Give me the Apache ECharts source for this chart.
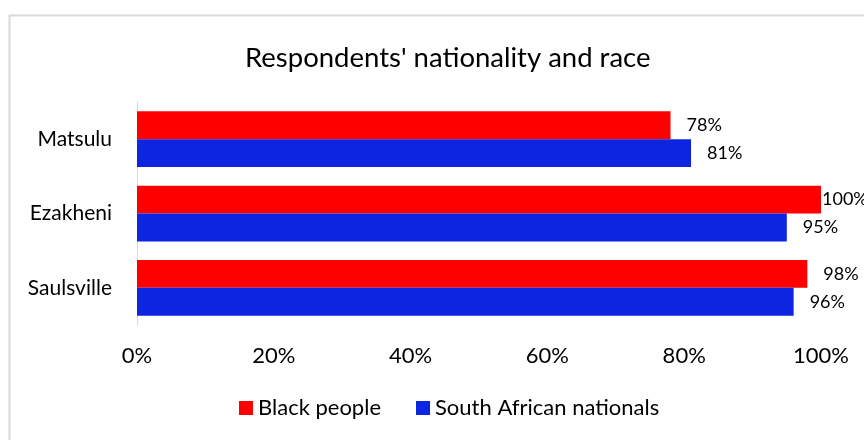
<!DOCTYPE html>
<html>
<head>
<meta charset="utf-8">
<script src="https://cdn.jsdelivr.net/npm/echarts@6/dist/echarts.min.js"></script>
<style>html,body{margin:0;padding:0;background:#fff;}#chart{width:864px;height:440px;}</style>
</head>
<body>
<div id="chart"></div>
<script>
var categories = ['Saulsville', 'Ezakheni', 'Matsulu'];
var blackPeople = [98, 100, 78];
var southAfricanNationals = [96, 95, 81];
var xTicks = [0, 20, 40, 60, 80, 100];
var seriesNames = ['Black people', 'South African nationals'];

var FONT = 'Lato';
function items(vals) {
  return vals.map(function (v) {
    return { value: v, label: { distance: v >= 100 ? 1 : 16 } };
  });
}
var chart = echarts.init(document.getElementById('chart'), null, { renderer: 'canvas' });
chart.setOption({
  animation: false,
  backgroundColor: '#fff',
  textStyle: { fontFamily: FONT },
  graphic: [{
    type: 'rect', left: 7, top: 13, shape: { width: 900, height: 500 },
    style: { fill: 'none', stroke: '#d9d9d9', lineWidth: 2 }, z: -1
  }],
  title: {
    text: "Respondents' nationality and race",
    left: 240, top: 39,
    textStyle: { fontFamily: FONT, fontSize: 27.5, fontWeight: 'normal', color: '#000' }
  },
  legend: {
    bottom: 16, left: 234, itemWidth: 14, itemHeight: 14, itemGap: 35,
    icon: 'rect',
    textStyle: { fontFamily: FONT, fontSize: 22, color: '#000' },
    data: seriesNames
  },
  grid: { left: 137, right: 43, top: 102, bottom: 115, containLabel: false },
  xAxis: {
    type: 'value', min: xTicks[0], max: xTicks[xTicks.length - 1], interval: xTicks[1] - xTicks[0],
    axisLine: { show: false }, axisTick: { show: false }, splitLine: { show: false },
    axisLabel: { formatter: '{value}%', fontFamily: FONT, fontSize: 22, color: '#000', margin: 20 }
  },
  yAxis: {
    type: 'category', data: categories,
    axisLine: { show: true, lineStyle: { color: '#d9d9d9', width: 1 } },
    axisTick: { show: false },
    axisLabel: { fontFamily: FONT, fontSize: 21, color: '#000', margin: 25 }
  },
  series: [
    {
      name: seriesNames[0], type: 'bar', data: items(blackPeople),
      itemStyle: { color: '#ff0000' }, barGap: '0%', barCategoryGap: '25%',
      label: { show: true, position: 'right', formatter: '{c}%', fontFamily: FONT, fontSize: 18, color: '#000' }
    },
    {
      name: seriesNames[1], type: 'bar', data: items(southAfricanNationals),
      itemStyle: { color: '#0d25e0' }, barGap: '0%', barCategoryGap: '25%',
      label: { show: true, position: 'right', formatter: '{c}%', fontFamily: FONT, fontSize: 18, color: '#000' }
    }
  ]
});
</script>
</body>
</html>
